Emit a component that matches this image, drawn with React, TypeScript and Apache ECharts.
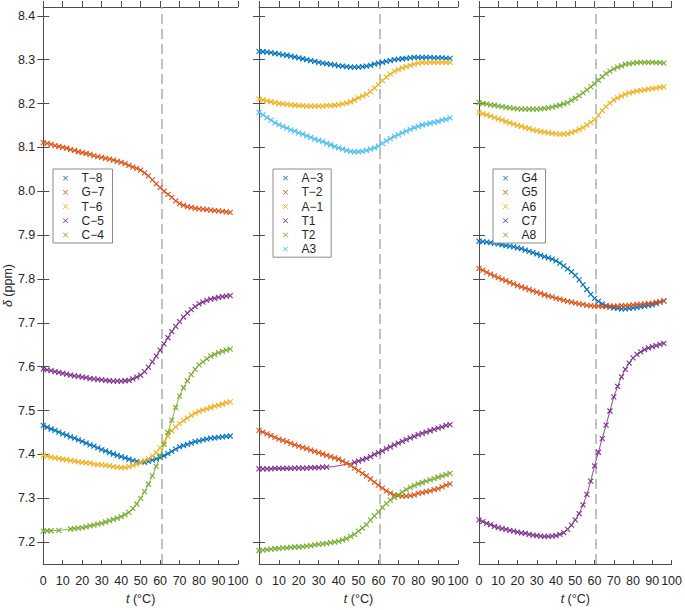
import React, { useEffect, useRef } from "react";
import * as echarts from "echarts";

// Sample temperatures (°C)
const temps = [
  0, 2, 4, 6, 8, 10, 12, 14, 16, 18,
  20, 22, 24, 26, 28, 30, 32, 34, 36, 38,
  40, 42, 44, 46, 48, 50, 52, 54, 56, 58,
  60, 62, 64, 66, 68, 70, 72, 74, 76, 78,
  80, 82, 84, 86, 88, 90, 92, 94, 96,
];

// Panel 1 (null = no measured point at that temperature)
const T8 = [
  7.466, 7.462, 7.458, 7.455, 7.451, 7.447, 7.444, 7.44, 7.437, 7.433,
  7.43, 7.426, 7.422, 7.419, 7.415, 7.411, 7.408, 7.404, 7.401, 7.398,
  7.395, 7.392, 7.389, 7.386, 7.384, 7.382, 7.382, 7.384, 7.387, 7.39,
  7.393, 7.397, 7.402, 7.407, 7.412, 7.417, 7.42, 7.423, 7.426, 7.429,
  7.431, 7.433, 7.435, 7.437, 7.438, 7.439, 7.44, 7.441, 7.442,
];
const G7 = [
  8.111, 8.109, 8.107, 8.104, 8.102, 8.1, 8.098, 8.095, 8.093, 8.09,
  8.088, 8.086, 8.084, 8.081, 8.079, 8.077, 8.075, 8.073, 8.071, 8.068,
  8.066, 8.063, 8.059, 8.055, 8.052, 8.048, 8.042, 8.035, 8.026, 8.017,
  8.008, 8.0, 7.993, 7.986, 7.978, 7.972, 7.968, 7.965, 7.963, 7.961,
  7.96, 7.959, 7.958, 7.957, 7.956, 7.955, 7.954, 7.953, 7.952,
];
const T6 = [
  7.398, 7.396, 7.394, 7.392, 7.391, 7.389, 7.388, 7.386, 7.385, 7.383,
  7.382, 7.381, 7.38, 7.378, 7.377, 7.376, 7.375, 7.374, 7.372, 7.371,
  7.37, 7.37, 7.372, 7.375, 7.378, 7.382, 7.386, 7.39, 7.396, 7.404,
  7.415, 7.428, 7.442, 7.454, 7.463, 7.471, 7.477, 7.483, 7.489, 7.494,
  7.498, 7.501, 7.504, 7.507, 7.51, 7.512, 7.515, 7.518, 7.52,
];
const C5 = [
  7.595, 7.593, 7.591, 7.589, 7.587, 7.585, 7.583, 7.581, 7.579, 7.578,
  7.576, 7.575, 7.573, 7.572, 7.571, 7.57, 7.569, 7.568, 7.567, 7.567,
  7.567, 7.568, 7.569, 7.572, 7.576, 7.581, 7.589, 7.599, 7.611, 7.624,
  7.638, 7.652, 7.666, 7.68, 7.692, 7.703, 7.713, 7.722, 7.73, 7.737,
  7.743, 7.747, 7.751, 7.754, 7.756, 7.758, 7.76, 7.761, 7.762,
];
const C4 = [
  7.225, 7.226, 7.226, null, 7.227, null, null, 7.23, 7.231, 7.232,
  7.233, 7.235, 7.237, 7.239, 7.241, 7.243, 7.246, 7.249, 7.252, 7.255,
  7.258, 7.263, 7.268, 7.277, 7.287, 7.3, 7.315, 7.332, 7.351, 7.373,
  7.397, 7.423, 7.45, 7.478, 7.507, 7.533, 7.552, 7.568, 7.582, 7.594,
  7.604, 7.611, 7.618, 7.624, 7.628, 7.632, 7.635, 7.638, 7.64,
];

// Panel 2
const Am3 = [
  8.319, 8.318, 8.317, 8.316, 8.314, 8.313, 8.311, 8.31, 8.308, 8.306,
  8.304, 8.302, 8.3, 8.298, 8.296, 8.294, 8.292, 8.291, 8.289, 8.288,
  8.286, 8.285, 8.284, 8.283, 8.283, 8.283, 8.284, 8.285, 8.287, 8.29,
  8.292, 8.294, 8.296, 8.298, 8.3, 8.301, 8.302, 8.303, 8.304, 8.305,
  8.305, 8.305, 8.305, 8.305, 8.304, 8.304, 8.304, 8.303, 8.303,
];
const Tm2 = [
  7.455, 7.451, 7.447, 7.443, 7.439, 7.435, 7.432, 7.429, 7.425, 7.422,
  7.419, 7.416, 7.413, 7.41, 7.407, 7.404, 7.401, 7.398, 7.395, 7.392,
  7.389, 7.385, 7.38, 7.375, 7.369, 7.363, 7.357, 7.351, 7.344, 7.337,
  7.33, 7.323, 7.317, 7.312, 7.308, 7.306, 7.305, 7.305, 7.306, 7.308,
  7.311, 7.313, 7.315, 7.317, 7.32, 7.322, 7.326, 7.33, 7.333,
];
const Am1 = [
  8.21, 8.208, 8.206, 8.204, 8.202, 8.2, 8.199, 8.198, 8.197, 8.196,
  8.195, 8.195, 8.194, 8.194, 8.194, 8.194, 8.194, 8.195, 8.195, 8.196,
  8.197, 8.199, 8.201, 8.204, 8.208, 8.213, 8.217, 8.221, 8.227, 8.235,
  8.243, 8.252, 8.26, 8.267, 8.273, 8.277, 8.281, 8.284, 8.287, 8.29,
  8.292, 8.293, 8.293, 8.294, 8.294, 8.294, 8.294, 8.294, 8.294,
];
const T1 = [
  7.367, 7.367, 7.367, 7.367, 7.368, 7.368, 7.368, 7.368, 7.368, 7.369,
  7.369, 7.369, 7.369, 7.37, 7.37, 7.37, 7.371, 7.371, null, null,
  null, null, null, null, 7.382, 7.385, 7.388, 7.391, 7.395, 7.4,
  7.404, 7.408, 7.413, 7.417, 7.422, 7.426, 7.43, 7.434, 7.438, 7.441,
  7.445, 7.448, 7.451, 7.454, 7.457, 7.46, 7.463, 7.466, 7.468,
];
const T2 = [
  7.181, 7.182, 7.183, 7.184, 7.185, 7.186, 7.187, 7.187, 7.188, 7.189,
  7.189, 7.19, 7.191, 7.192, 7.194, 7.195, 7.196, 7.197, 7.199, 7.2,
  7.202, 7.205, 7.208, 7.213, 7.218, 7.225, 7.232, 7.24, 7.25, 7.26,
  7.269, 7.279, 7.288, 7.296, 7.302, 7.308, 7.314, 7.32, 7.325, 7.329,
  7.333, 7.336, 7.339, 7.342, 7.345, 7.348, 7.351, 7.354, 7.357,
];
const A3 = [
  8.18, 8.174, 8.168, 8.162, 8.156, 8.152, 8.148, 8.144, 8.14, 8.137,
  8.133, 8.13, 8.126, 8.123, 8.119, 8.116, 8.113, 8.109, 8.106, 8.102,
  8.099, 8.096, 8.093, 8.091, 8.09, 8.09, 8.091, 8.093, 8.096, 8.099,
  8.103, 8.109, 8.115, 8.12, 8.125, 8.129, 8.133, 8.137, 8.141, 8.145,
  8.148, 8.151, 8.153, 8.155, 8.157, 8.159, 8.162, 8.164, 8.167,
];

// Panel 3
const G4 = [
  7.886, 7.885, 7.884, 7.883, 7.881, 7.88, 7.878, 7.876, 7.875, 7.873,
  7.871, 7.869, 7.866, 7.863, 7.86, 7.857, 7.854, 7.851, 7.848, 7.845,
  7.841, 7.836, 7.83, 7.823, 7.816, 7.808, 7.798, 7.787, 7.776, 7.765,
  7.756, 7.749, 7.743, 7.739, 7.736, 7.734, 7.733, 7.732, 7.732, 7.733,
  7.734, 7.735, 7.737, 7.738, 7.74, 7.741, 7.744, 7.747, 7.75,
];
const G5 = [
  7.824, 7.82, 7.815, 7.811, 7.807, 7.803, 7.799, 7.796, 7.792, 7.789,
  7.785, 7.782, 7.779, 7.776, 7.773, 7.77, 7.767, 7.764, 7.761, 7.759,
  7.756, 7.754, 7.751, 7.749, 7.747, 7.745, 7.743, 7.742, 7.74, 7.739,
  7.738, 7.738, 7.737, 7.737, 7.738, 7.738, 7.738, 7.739, 7.739, 7.74,
  7.741, 7.742, 7.742, 7.743, 7.744, 7.745, 7.747, 7.748, 7.75,
];
const A6 = [
  8.18, 8.177, 8.174, 8.171, 8.168, 8.165, 8.162, 8.159, 8.156, 8.153,
  8.15, 8.148, 8.145, 8.143, 8.14, 8.138, 8.136, 8.135, 8.133, 8.132,
  8.131, 8.13, 8.13, 8.131, 8.134, 8.137, 8.141, 8.145, 8.151, 8.157,
  8.163, 8.173, 8.184, 8.193, 8.201, 8.208, 8.213, 8.217, 8.221, 8.224,
  8.226, 8.228, 8.23, 8.231, 8.233, 8.234, 8.235, 8.237, 8.238,
];
const C7 = [
  7.251, 7.247, 7.243, 7.24, 7.236, 7.233, 7.231, 7.229, 7.227, 7.225,
  7.223, 7.221, 7.22, 7.218, 7.216, 7.215, 7.214, 7.213, 7.213, 7.214,
  7.215, 7.218, 7.222, 7.229, 7.239, 7.251, 7.265, 7.285, 7.309, 7.339,
  7.374, 7.405, 7.436, 7.467, 7.499, 7.531, 7.555, 7.577, 7.594, 7.608,
  7.62, 7.628, 7.634, 7.639, 7.643, 7.646, 7.648, 7.651, 7.653,
];
const A8 = [
  8.202, 8.2, 8.199, 8.197, 8.196, 8.194, 8.193, 8.191, 8.19, 8.189,
  8.188, 8.187, 8.187, 8.187, 8.187, 8.187, 8.188, 8.189, 8.19, 8.192,
  8.194, 8.196, 8.199, 8.202, 8.207, 8.212, 8.218, 8.224, 8.231, 8.238,
  8.245, 8.253, 8.261, 8.268, 8.274, 8.279, 8.283, 8.286, 8.289, 8.291,
  8.292, 8.293, 8.294, 8.294, 8.294, 8.294, 8.293, 8.293, 8.292,
];

const yTicks = [7.2, 7.3, 7.4, 7.5, 7.6, 7.7, 7.8, 7.9, 8.0, 8.1, 8.2, 8.3, 8.4];
const meltTemp = 60.7;

const BLUE = "#0072BD";
const ORANGE = "#D95319";
const YELLOW = "#EDB120";
const PURPLE = "#7E2F8E";
const GREEN = "#77AC30";
const CYAN = "#4DBEEE";

const XPATH = "path://M0,0L10,10M10,0L0,10";
// legend icon: a 4.5px cross centred in a 22x4.5 box (move-to points fix the bounds)
const LEGEND_ICON = "path://M0,0M22,4.5M8.75,0L13.25,4.5M13.25,0L8.75,4.5";
const FONT = "'Liberation Sans', Arial, sans-serif";
const TXT = "#262626";
const AXC = "#4d4d4d";

type S = { name: string; values: (number | null)[]; color: string };

const panels: { left: number; width: number; legendLeft: number; series: S[] }[] = [
  {
    left: 39,
    width: 199,
    legendLeft: 53,
    series: [
      { name: "T\u22128", values: T8, color: BLUE },
      { name: "G\u22127", values: G7, color: ORANGE },
      { name: "T\u22126", values: T6, color: YELLOW },
      { name: "C\u22125", values: C5, color: PURPLE },
      { name: "C\u22124", values: C4, color: GREEN },
    ],
  },
  {
    left: 259,
    width: 199,
    legendLeft: 273,
    series: [
      { name: "A\u22123", values: Am3, color: BLUE },
      { name: "T\u22122", values: Tm2, color: ORANGE },
      { name: "A\u22121", values: Am1, color: YELLOW },
      { name: "T1", values: T1, color: PURPLE },
      { name: "T2", values: T2, color: GREEN },
      { name: "A3", values: A3, color: CYAN },
    ],
  },
  {
    left: 479,
    width: 198,
    legendLeft: 493,
    series: [
      { name: "G4", values: G4, color: BLUE },
      { name: "G5", values: G5, color: ORANGE },
      { name: "A6", values: A6, color: YELLOW },
      { name: "C7", values: C7, color: PURPLE },
      { name: "A8", values: A8, color: GREEN },
    ],
  },
];

export default function App() {
  const ref = useRef<HTMLDivElement>(null);
  useEffect(() => {
    const chart = echarts.init(ref.current!, null, { renderer: "svg" });
    const grid: any[] = [];
    const xAxis: any[] = [];
    const yAxis: any[] = [];
    const series: any[] = [];
    const legend: any[] = [];
    panels.forEach((p) => {
      grid.push({ left: p.left, width: p.width, top: 7, height: 566 });
    });
    const nameStyle = {
      fontSize: 12.5,
      color: TXT,
      fontFamily: FONT,
      rich: { i: { fontStyle: "italic", fontSize: 12.5, color: TXT, fontFamily: FONT } },
    };
    // bottom x axes
    panels.forEach((p, i) => {
      xAxis.push({
        type: "value",
        gridIndex: i,
        position: "bottom",
        min: 0,
        max: 100,
        interval: 10,
        axisLine: { show: true, lineStyle: { color: AXC, width: 1 } },
        axisTick: { show: true, inside: true, length: 4, lineStyle: { color: AXC } },
        axisLabel: { show: true, margin: 10, fontSize: 12.5, color: TXT, fontFamily: FONT },
        splitLine: { show: false },
        name: "{i|t} (\u00B0C)",
        nameLocation: "middle",
        nameGap: 26,
        nameTextStyle: nameStyle,
      });
    });
    // top x axes
    panels.forEach((p, i) => {
      xAxis.push({
        type: "value",
        gridIndex: i,
        position: "top",
        min: 0,
        max: 100,
        interval: 10,
        axisLine: { show: true, lineStyle: { color: AXC, width: 1 } },
        axisTick: { show: true, inside: false, length: 6, lineStyle: { color: AXC } },
        axisLabel: { show: false },
        splitLine: { show: false },
      });
    });
    // left y axes
    panels.forEach((p, i) => {
      yAxis.push({
        type: "value",
        gridIndex: i,
        position: "left",
        min: 7.15,
        max: 8.42,
        axisLine: { show: true, lineStyle: { color: AXC, width: 1 } },
        axisTick: { show: true, inside: false, length: 6, customValues: yTicks, lineStyle: { color: AXC } },
        axisLabel: {
          show: i === 0,
          customValues: yTicks,
          margin: 8,
          fontSize: 12.5,
          color: TXT,
          fontFamily: FONT,
          formatter: (v: number) => v.toFixed(1),
        },
        splitLine: { show: false },
        name: i === 0 ? "{i|\u03B4} (ppm)" : "",
        nameLocation: "middle",
        nameGap: 28,
        nameTextStyle: nameStyle,
      });
    });
    // right y axes
    panels.forEach((p, i) => {
      yAxis.push({
        type: "value",
        gridIndex: i,
        position: "right",
        min: 7.15,
        max: 8.42,
        axisLine: { show: true, lineStyle: { color: AXC, width: 1 } },
        axisTick: { show: true, inside: false, length: 6, customValues: yTicks, lineStyle: { color: AXC } },
        axisLabel: { show: false },
        splitLine: { show: false },
      });
    });

    panels.forEach((p, i) => {
      p.series.forEach((s, k) => {
        series.push({
          type: "line",
          name: s.name,
          xAxisIndex: i,
          yAxisIndex: i,
          data: temps.map((t, j) => [t, s.values[j] === null ? "-" : s.values[j]]),
          connectNulls: true,
          symbol: XPATH,
          symbolSize: 5,
          showSymbol: true,
          smooth: 0.3,
          lineStyle: { color: s.color, width: 0.9 },
          itemStyle: { color: s.color, borderColor: s.color, borderWidth: 1.1 },
          emphasis: { disabled: true },
          silent: true,
          z: 3,
          markLine:
            k === 0
              ? {
                  silent: true,
                  symbol: ["none", "none"],
                  label: { show: false },
                  lineStyle: { color: "#acacac", type: [10, 5], width: 1.5 },
                  data: [{ xAxis: meltTemp }],
                  z: 1,
                }
              : undefined,
        });
      });
      legend.push({
        data: p.series.map((s) => s.name),
        orient: "vertical",
        left: p.legendLeft,
        top: 169,
        icon: LEGEND_ICON,
        itemWidth: 22,
        itemHeight: 4.5,
        itemGap: 0,
        padding: [2, 8, 1, 1],
        borderColor: "#8c8c8c",
        borderWidth: 1,
        borderRadius: 0,
        backgroundColor: "#ffffff",
        selectedMode: false,
        itemStyle: { borderWidth: 1 },
        textStyle: { fontSize: 12, color: TXT, fontFamily: FONT, lineHeight: 14.2 },
        z: 10,
      });
    });

    chart.setOption({
      animation: false,
      backgroundColor: "#ffffff",
      grid,
      xAxis,
      yAxis,
      legend,
      series,
    });
    return () => chart.dispose();
  }, []);
  return (
    <div
      ref={ref}
      style={{ position: "fixed", left: 0, top: 0, width: 685, height: 610 }}
    />
  );
}
